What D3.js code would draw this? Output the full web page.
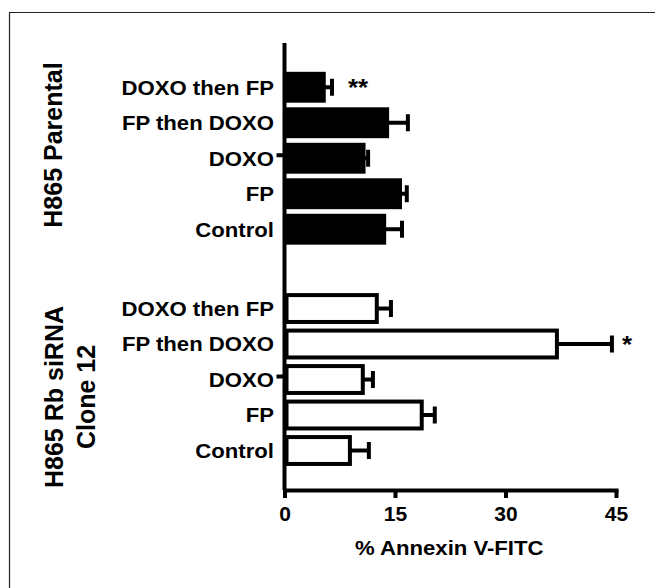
<!DOCTYPE html>
<html>
<head>
<meta charset="utf-8">
<script src="https://cdn.jsdelivr.net/npm/d3@7"></script>
<style>
  html, body { margin: 0; padding: 0; background: #fff; }
  svg { display: block; }
  text { font-family: "Liberation Sans", Arial, sans-serif; font-weight: bold; fill: #000; }
</style>
</head>
<body>
<script>
// ---- data ----
const groups = ["H865 Parental", "H865 Rb siRNA Clone 12"];
const groupLabelLines = [["H865 Parental"], ["H865 Rb siRNA", "Clone 12"]];
const categories = ["DOXO then FP", "FP then DOXO", "DOXO", "FP", "Control"];
const parentalMean = [5.6, 14.2, 11.0, 15.95, 13.8];
const parentalErr  = [0.85, 2.55, 0.35, 0.65, 2.15];
const rbMean = [12.8, 37.25, 10.9, 18.9, 9.15];
const rbErr  = [1.65, 7.2, 1.1, 1.5, 2.3];
const parentalStars = ["**", "", "", "", ""];
const rbStars = ["", "*", "", "", ""];
const xTicks = [0, 15, 30, 45];
const xTitle = "% Annexin V-FITC";

const W = 655, H = 588;
const svg = d3.select("body").append("svg").attr("width", W).attr("height", H);

// frame
svg.append("path").attr("d", "M9.5,700V12.5H700").attr("fill", "none")
  .attr("stroke", "#222").attr("stroke-width", 1.2);

const x = d3.scaleLinear().domain([0, 45]).range([284.5, 616]);
const yOuter = d3.scaleBand().domain(groups).range([69.5, 468.25]).paddingInner(0.198);
const yInner = d3.scaleBand().domain(categories).range([0, yOuter.bandwidth()])
  .paddingInner(0.13).paddingOuter(0.065);

const axisY = 490, axisTop = 43;
const sx = 1.08; // horizontal stretch of text

const data = [];
groups.forEach((g, gi) => {
  const means = gi === 0 ? parentalMean : rbMean;
  const errs = gi === 0 ? parentalErr : rbErr;
  const stars = gi === 0 ? parentalStars : rbStars;
  categories.forEach((c, ci) => {
    data.push({ group: g, gi, cat: c, mean: means[ci], err: errs[ci], star: stars[ci] });
  });
});
const yc = d => yOuter(d.group) + yInner(d.cat) + yInner.bandwidth() / 2;

// bars
const bars = svg.append("g");
bars.selectAll("rect").data(data).join("rect")
  .attr("x", d => d.gi === 0 ? x(0) : x(0) + 2)
  .attr("y", d => yOuter(d.group) + yInner(d.cat) + (d.gi === 0 ? 0 : 2))
  .attr("width", d => d.gi === 0 ? x(d.mean) - x(0) : x(d.mean) - x(0) - 4)
  .attr("height", d => d.gi === 0 ? yInner.bandwidth() : yInner.bandwidth() - 4)
  .attr("fill", d => d.gi === 0 ? "#000" : "#fff")
  .attr("stroke", d => d.gi === 0 ? "none" : "#000")
  .attr("stroke-width", 4);

// error bars
const eb = svg.append("g").attr("stroke", "#000").attr("stroke-width", 4);
eb.selectAll("line.h").data(data).join("line").attr("class", "h")
  .attr("x1", d => x(d.mean) - 2).attr("x2", d => x(d.mean + d.err))
  .attr("y1", yc).attr("y2", yc);
eb.selectAll("line.c").data(data).join("line").attr("class", "c")
  .attr("x1", d => x(d.mean + d.err)).attr("x2", d => x(d.mean + d.err))
  .attr("y1", d => yc(d) - 8.5).attr("y2", d => yc(d) + 8.5);

// stars
svg.append("g").selectAll("text").data(data.filter(d => d.star)).join("text")
  .attr("transform", d => `translate(${x(d.mean + d.err) + (d.star.length > 1 ? 16 : 10)},${yc(d) + 9}) scale(${sx},1)`)
  .attr("font-size", 24).text(d => d.star);

// category labels
svg.append("g").selectAll("text").data(data).join("text")
  .attr("transform", d => `translate(274,${yc(d) + 7.3}) scale(${sx},1)`)
  .attr("text-anchor", "end").attr("font-size", 20.5).text(d => d.cat);

// y axis line and group ticks
svg.append("line").attr("x1", x(0)).attr("x2", x(0)).attr("y1", axisTop).attr("y2", axisY)
  .attr("stroke", "#000").attr("stroke-width", 4);
svg.append("g").selectAll("line").data(groups).join("line")
  .attr("x1", x(0) - 8).attr("x2", x(0))
  .attr("y1", g => yOuter(g) + yOuter.bandwidth() / 2 - 3)
  .attr("y2", g => yOuter(g) + yOuter.bandwidth() / 2 - 3)
  .attr("stroke", "#000").attr("stroke-width", 4);

// group labels (rotated)
const glX = [62, 63];
const glY = [145, 397];
groups.forEach((g, gi) => {
  const lines = groupLabelLines[gi];
  lines.forEach((ln, li) => {
    svg.append("text")
      .attr("transform", `translate(${glX[gi] + li * 32},${glY[gi]}) rotate(-90)`)
      .attr("text-anchor", "middle").attr("font-size", 25).text(ln);
  });
});

// x axis
const xAxis = svg.append("g").attr("transform", `translate(0,${axisY})`)
  .call(d3.axisBottom(x).tickValues(xTicks).tickSize(8).tickSizeOuter(0).tickFormat(d3.format("d")));
xAxis.select(".domain").attr("stroke-width", 4).attr("stroke-linecap", "square");
xAxis.selectAll(".tick line").attr("stroke-width", 4);
xAxis.selectAll(".tick text").attr("font-size", 21).attr("y", 30.5).attr("dy", 0)
  .attr("font-family", "'Liberation Sans', Arial, sans-serif").attr("font-weight", "bold")
  .attr("fill", "#000");

svg.append("text").attr("transform", `translate(${x(22.5) - 1},555) scale(${sx},1)`)
  .attr("text-anchor", "middle").attr("font-size", 20.5).text(xTitle);
</script>
</body>
</html>
